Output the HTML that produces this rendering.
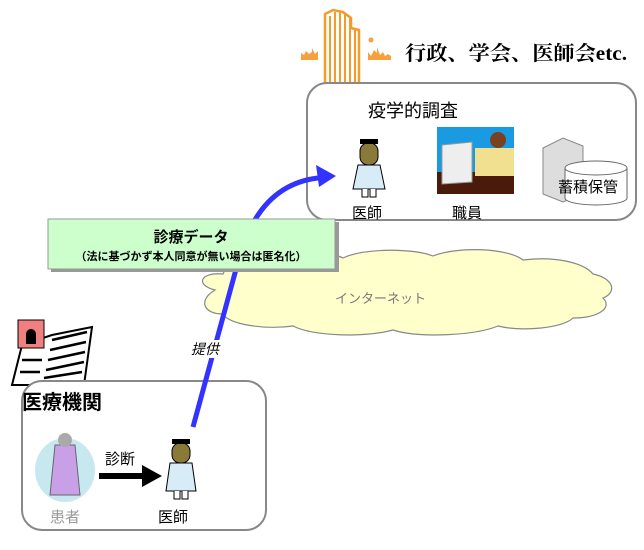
<!DOCTYPE html>
<html><head><meta charset="utf-8"><style>
body{margin:0;background:#fff;width:644px;height:545px;overflow:hidden}
svg text{font-family:"Liberation Sans","Noto Sans CJK JP",sans-serif}
</style></head><body>
<svg width="644" height="545" viewBox="0 0 644 545">
<!-- orange building -->
<path d="M325 86V14l8-4 10 2 8 6v10l8 2v56z" fill="#fff" stroke="#f79a2a" stroke-width="2.5"/>
<g stroke="#f79a2a" stroke-width="2">
<path d="M330 16v70M335 12v74M340 12v74M345 14v72M350 18v68M355 30v56"/>
</g>
<path d="M301 60v-7l3 2 2-4 3 3 3-2v-4l3 6 3-3v9zM368 60v-8l3 4 3-6 3 3v-6l3 8 3-3 2 4 3-2 3 2v4z" fill="#f7a040"/>
<circle cx="371" cy="40" r="2.5" fill="#f7a040"/>
<text x="405" y="60" font-size="20" font-weight="bold" textLength="222" lengthAdjust="spacingAndGlyphs" style="font-family:'Liberation Serif','Noto Serif CJK JP',serif">行政、学会、医師会etc.</text>
<!-- top box -->
<rect x="307" y="83" width="329" height="137" rx="20" fill="#fff" stroke="#888" stroke-width="2"/>
<text x="368" y="117" font-size="18">疫学的調査</text>
<!-- doctor top -->
<g transform="translate(350,135)">
<rect x="10" y="8" width="18" height="22" rx="8" fill="#8a7a3a" stroke="#000"/>
<path d="M8 30h22l5 24h-32z" fill="#d8ecf8" stroke="#000"/>
<path d="M12 54v8h6v-8M20 54v8h6v-8" stroke="#000" fill="#fff"/>
<rect x="10" y="4" width="18" height="5" fill="#000"/>
</g>
<text x="352" y="218" font-size="15">医師</text>
<!-- staff picture -->
<rect x="437" y="127" width="77" height="67" fill="#1a9ae0"/>
<rect x="437" y="172" width="77" height="22" fill="#4a1a0a"/>
<rect x="475" y="148" width="39" height="28" fill="#f0e090"/>
<circle cx="498" cy="140" r="8" fill="#7a4020"/>
<path d="M442 145l30-3v40l-30 2z" fill="#eee" stroke="#999"/>
<text x="452" y="218" font-size="15">職員</text>
<!-- server -->
<path d="M543 148l20-10 20 8v48l-20 8-20-8z" fill="#ddd" stroke="#888"/>
<path d="M565 168v30a31 7 0 0 0 62 0v-30" fill="#fff" stroke="#666"/>
<ellipse cx="596" cy="168" rx="31" ry="7" fill="#fff" stroke="#666"/>
<text x="558" y="192" font-size="15">蓄積保管</text>
<!-- cloud -->
<path d="M215 290c-20-5-15-18 8-16c5-14 40-16 55-10c15-12 50-14 65-6c20-10 70-10 90-2c25-10 75-8 90 4c30-4 60 2 70 14c20 4 25 18 10 24c10 10-5 20-30 20c-10 10-50 14-75 8c-25 10-80 12-105 4c-30 8-80 6-100-4c-30 4-65-2-70-12c-20 0-25-14-8-24z" fill="#ffffcc" stroke="#888" stroke-width="1.2"/>
<text x="335" y="303" font-size="13" fill="#777">インターネット</text>
<!-- hospital icon -->
<g>
<path d="M12 385l10-40 30-10 40-8-8 58z" fill="#fff" stroke="#000" stroke-width="2"/>
<path d="M52 340l35-8M50 350l36-8M48 360l37-8M46 370l38-8M44 378l38-6M22 360h20M20 372h20" stroke="#000" stroke-width="2.5"/>
<rect x="18" y="320" width="26" height="28" fill="#f08080" stroke="#000"/>
<path d="M26 344v-10a5 5 0 0 1 10 0v10z" fill="#000"/>
</g>
<!-- bottom box -->
<rect x="22" y="381" width="244" height="149" rx="20" fill="#fff" stroke="#888" stroke-width="2"/>
<text x="22" y="409" font-size="20" font-weight="bold">医療機関</text>
<!-- blue line -->
<path d="M193 427L238 262Q258 185 318 178" stroke="#3333ff" stroke-width="5" fill="none"/>
<path d="M336 176l-20-11 3 22z" fill="#3333ff"/>
<rect x="188" y="340" width="34" height="18" fill="#fff"/>
<text x="191" y="354" font-size="14" font-style="italic">提供</text>
<!-- green box -->
<rect x="51" y="222" width="288" height="50" fill="#999"/>
<rect x="48" y="219" width="287" height="50" fill="#ccffcc" stroke="#999"/>
<text x="191" y="242" font-size="15" font-weight="bold" text-anchor="middle">診療データ</text>
<text x="191" y="260" font-size="11" font-weight="bold" text-anchor="middle">（法に基づかず本人同意が無い場合は匿名化）</text>
<!-- patient -->
<ellipse cx="65" cy="470" rx="30" ry="32" fill="#c8e8f0"/>
<path d="M55 445h20l5 50h-30z" fill="#c8a0e8" stroke="#666"/>
<circle cx="65" cy="440" r="7" fill="#aaa"/>
<text x="50" y="522" font-size="15" fill="#999">患者</text>
<!-- arrow -->
<path d="M99 476h45" stroke="#000" stroke-width="6"/>
<path d="M162 476l-20-11v22z" fill="#000"/>
<text x="105" y="464" font-size="15">診断</text>
<!-- doctor bottom -->
<g transform="translate(160,435)">
<rect x="12" y="8" width="18" height="20" rx="8" fill="#8a7a3a" stroke="#000"/>
<path d="M10 28h22l4 28h-30z" fill="#d8ecf8" stroke="#000"/>
<path d="M14 56v8h6v-8M22 56v8h6v-8" stroke="#000" fill="#fff"/>
<rect x="12" y="4" width="18" height="5" fill="#000"/>
</g>
<text x="158" y="522" font-size="15">医師</text>
</svg>
</body></html>
